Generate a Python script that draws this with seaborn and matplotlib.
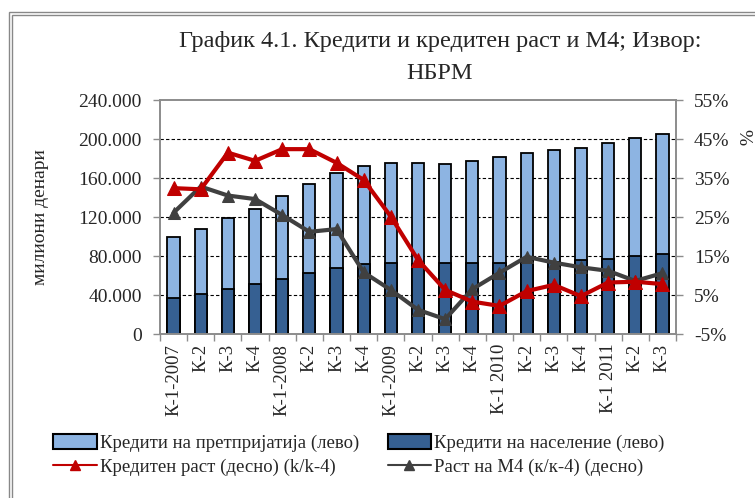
import numpy as np
import pandas as pd
import matplotlib
matplotlib.use("Agg")
import matplotlib.pyplot as plt
from matplotlib.patches import Patch, Rectangle
from matplotlib.lines import Line2D
import seaborn as sns

quarters = ["К-1-2007", "К-2", "К-3", "К-4", "К-1-2008", "К-2", "К-3", "К-4",
            "К-1-2009", "К-2", "К-3", "К-4", "К-1 2010", "К-2", "К-3", "К-4",
            "К-1 2011", "К-2", "К-3"]
total_credit = [99200, 107700, 119300, 127900, 141200, 153500, 165500, 172600,
                175700, 175000, 174700, 177800, 181200, 185600, 188700, 190800,
                195600, 201000, 204800]
household_credit = [36600, 40700, 46500, 51300, 56400, 62200, 67400, 71800,
                    72800, 71500, 73300, 73200, 73200, 75900, 74200, 75900,
                    76900, 80000, 81700]
credit_growth = [32.4, 32.1, 41.5, 39.4, 42.4, 42.4, 38.9, 34.5, 25.1, 14.0,
                 6.3, 3.3, 2.2, 6.0, 7.6, 4.7, 8.2, 8.4, 7.8]
m4_growth = [26.1, 32.8, 30.5, 29.6, 25.5, 21.2, 21.9, 10.8, 6.3, 1.2,
             -1.2, 6.5, 10.7, 14.8, 13.3, 12.1, 11.2, 8.6, 10.6]
left_ticks = [0, 40000, 80000, 120000, 160000, 200000, 240000]
left_tick_labels = ["0", "40.000", "80.000", "120.000", "160.000", "200.000", "240.000"]
right_ticks = [-5, 5, 15, 25, 35, 45, 55]
right_tick_labels = ["-5%", "5%", "15%", "25%", "35%", "45%", "55%"]

title_line1 = "График 4.1. Кредити и кредитен раст и М4; Извор:"
title_line2 = "НБРМ"
legend_labels = ["Кредити на претпријатија (лево)", "Кредити на население (лево)",
                 "Кредитен раст (десно) (k/k-4)", "Раст на М4 (к/к-4) (десно)"]

LIGHT = "#8DB4E2"
DARK = "#366092"
RED = "#C00000"
GREY_LINE = "#404040"
SPINE = "#8C8C8C"

sns.set_theme(style="white")
plt.rcParams["font.family"] = ["Liberation Serif", "DejaVu Serif"]

fig = plt.figure(figsize=(7.55, 4.98), dpi=100)
ax = fig.add_axes([160/755, 1-334/498, 516/755, 234/498])

df = pd.DataFrame({"q": range(len(quarters)), "total": total_credit,
                   "house": household_credit})
sns.barplot(data=df, x="q", y="total", color=LIGHT, width=0.45, edgecolor="black",
            linewidth=1.3, saturation=1, ax=ax)
sns.barplot(data=df, x="q", y="house", color=DARK, width=0.45, edgecolor="black",
            linewidth=1.3, saturation=1, ax=ax)

ax.set_ylim(0, 240000)
ax.set_xlim(-0.5, len(quarters) - 0.5)
ax.set_yticks(left_ticks)
ax.set_yticklabels(left_tick_labels, fontsize=14)
ax.set_xticks(range(len(quarters)))
ax.set_xticklabels(quarters, rotation=90, fontsize=13.5)
ax.tick_params(axis="x", length=0, pad=7)
ax.tick_params(axis="y", length=5, color=SPINE, width=1, left=True, pad=8)
ax.set_xticks(np.arange(-0.5, len(quarters), 1.0), minor=True)
ax.tick_params(axis="x", which="minor", length=5, color=SPINE, bottom=True)
ax.set_xlabel("")
ax.set_ylabel("милиони денари", fontsize=14)
ax.yaxis.set_label_coords(-111/516, 0.5)
for y in left_ticks[1:-1]:
    ax.axhline(y, color="black", linestyle=(0, (3, 2)), linewidth=0.8, zorder=0.5)
for s in ax.spines.values():
    s.set_color(SPINE)
    s.set_linewidth(1.2)

ax2 = ax.twinx()
ldf = pd.DataFrame({"q": range(len(quarters)), "cg": credit_growth, "m4": m4_growth})
sns.lineplot(data=ldf, x="q", y="m4", color=GREY_LINE, linewidth=3, marker="^",
             markersize=8, markeredgecolor=GREY_LINE, ax=ax2, zorder=3)
sns.lineplot(data=ldf, x="q", y="cg", color=RED, linewidth=3, marker="^",
             markersize=10, markeredgecolor=RED, ax=ax2, zorder=4)
ax2.set_ylim(-5, 55)
ax2.set_xlim(-0.5, len(quarters) - 0.5)
ax2.set_yticks(right_ticks)
ax2.set_yticklabels(right_tick_labels, fontsize=14)
ax2.tick_params(axis="y", length=5, color=SPINE, width=1, right=True, pad=8)
ax2.set_ylabel("%", fontsize=14, rotation=270)
ax2.yaxis.set_label_coords((751 - 160)/516, 0.84)
ax2.set_xlabel("")
for s in ax2.spines.values():
    s.set_color(SPINE)
    s.set_linewidth(1.2)

fig.text(440/755, 1-42/498, title_line1, ha="center", va="center", fontsize=17.5)
fig.text(440/755, 1-73/498, title_line2, ha="center", va="center", fontsize=17.5)

handles = [Patch(facecolor=LIGHT, edgecolor="black", linewidth=1.5),
           Line2D([], [], color=RED, linewidth=1.5, marker="^", markersize=7),
           Patch(facecolor=DARK, edgecolor="black", linewidth=1.5),
           Line2D([], [], color=GREY_LINE, linewidth=1.5, marker="^", markersize=7)]
labels = [legend_labels[0], legend_labels[2], legend_labels[1], legend_labels[3]]
fig.legend(handles, labels, loc="upper left", bbox_to_anchor=(44/755, 1-425/498),
           ncol=2, frameon=False, fontsize=13.5, handlelength=2.3, handleheight=0.8,
           handletextpad=0.2, columnspacing=1.5, labelspacing=0.3, borderpad=0)

fig.patches.append(Rectangle((9/755, -0.1), 1.2, 1 - 12/498 + 0.1, transform=fig.transFigure,
                             fill=False, edgecolor="#888888", linewidth=1))
fig.patches.append(Rectangle((12/755, -0.1), 1.2, 1 - 15/498 + 0.1, transform=fig.transFigure,
                             fill=False, edgecolor="#888888", linewidth=1))

fig.savefig("out.png", dpi=100)
